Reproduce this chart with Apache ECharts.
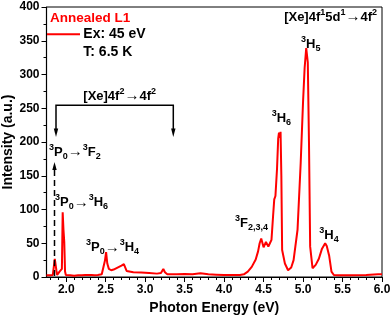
<!DOCTYPE html>
<html>
<head>
<meta charset="utf-8">
<script src="https://cdn.jsdelivr.net/npm/echarts@6/dist/echarts.min.js"></script>
<style>html,body{margin:0;padding:0;background:#fff}#c{width:392px;height:316px}</style>
</head>
<body>
<div id="c"></div>
<script>
var energy = [1.75,1.80,1.83,1.845,1.855,1.865,1.875,1.885,1.90,1.915,1.93,1.945,1.955,1.965,1.975,1.985,1.995,2.05,2.10,2.15,2.20,2.24,2.26,2.28,2.32,2.34,2.36,2.40,2.45,2.47,2.49,2.505,2.52,2.54,2.57,2.60,2.65,2.70,2.73,2.75,2.765,2.78,2.85,2.95,3.05,3.15,3.20,3.23,3.25,3.28,3.40,3.50,3.60,3.70,3.80,3.90,4.00,4.10,4.20,4.25,4.30,4.35,4.40,4.43,4.45,4.47,4.50,4.53,4.56,4.58,4.60,4.62,4.635,4.65,4.67,4.685,4.695,4.705,4.715,4.725,4.735,4.77,4.81,4.85,4.88,4.93,4.97,5.00,5.02,5.04,5.06,5.075,5.09,5.12,5.16,5.20,5.24,5.28,5.30,5.33,5.36,5.39,5.45,5.60,5.80,5.95,6.00];
var intensity = [2.5,2.5,3,5,27,28,10,3,4,8,6,12,96,70,52,8,3,2.5,2,2.5,2.5,3,5,3,3,4,2.5,3,4,6,24,37,20,12,10,11,14,17,19,18,9,7,7,6.5,6,5,6,12,7,4,4,4.5,4,5.5,4,3.5,3,3,3,4,8,15,26,38,50,57,44,52,45,50,55,90,115,120,160,205,214,206,215,150,40,20,10,14,25,70,169,260,310,339,318,200,45,13,18,27,42,50,46,32,8,3,2.5,2.5,3,4,4];
var xMajorTicks = [2.0,2.5,3.0,3.5,4.0,4.5,5.0,5.5,6.0];
var xMinorTicks = [1.8,1.9,2.1,2.2,2.3,2.4,2.6,2.7,2.8,2.9,3.1,3.2,3.3,3.4,3.6,3.7,3.8,3.9,4.1,4.2,4.3,4.4,4.6,4.7,4.8,4.9,5.1,5.2,5.3,5.4,5.6,5.7,5.8,5.9];

var FF = '"Liberation Sans", Arial, sans-serif';
var rich = {
  m: {fontSize: 13, fontWeight: 'bold', fontFamily: FF, lineHeight: 18, fill: '#000'},
  sup: {fontSize: 9, fontWeight: 'bold', fontFamily: FF, lineHeight: 9, verticalAlign: 'top', fill: '#000'},
  sub: {fontSize: 9, fontWeight: 'bold', fontFamily: FF, lineHeight: 9, verticalAlign: 'bottom', fill: '#000'},
  ar: {fontSize: 15, fontWeight: 'normal', fontFamily: FF, lineHeight: 18, fill: '#000'}
};
function label(x, y, text, align) {
  return {type: 'text', x: x, y: y, z: 100, silent: true,
    style: {text: text, rich: rich, align: align || 'left', verticalAlign: 'middle', fontSize: 13, fontFamily: FF}};
}
function plain(x, y, text, size, color) {
  return {type: 'text', x: x, y: y, z: 100, silent: true,
    style: {text: text, fill: color, fontSize: size, fontWeight: 'bold', fontFamily: FF, align: 'left', verticalAlign: 'middle'}};
}

var data = energy.map(function (e, i) { return [e, intensity[i]]; });
var chart = echarts.init(document.getElementById('c'), null, {renderer: 'canvas'});
var labelStyle = {color: '#000', fontSize: 12, fontWeight: 'bold', fontFamily: FF};
chart.setOption({
  animation: false,
  backgroundColor: '#fff',
  grid: {left: 46.5, right: 10, top: 7, bottom: 39, containLabel: false, outerBoundsMode: 'none',
    show: true, borderColor: '#000', borderWidth: 1, backgroundColor: 'transparent'},
  xAxis: [{
    type: 'value', min: 1.75, max: 6,
    name: 'Photon Energy (eV)', nameLocation: 'middle', nameGap: 24, nameMoveOverlap: false,
    nameTextStyle: {color: '#000', fontSize: 14, fontWeight: 'bold', fontFamily: FF},
    axisLine: {show: true, onZero: false, lineStyle: {color: '#000', width: 1.2}},
    axisTick: {show: true, inside: false, length: 5, customValues: xMajorTicks, lineStyle: {color: '#000', width: 1}},
    axisLabel: Object.assign({margin: 7, customValues: xMajorTicks, formatter: function (v) { return (+v).toFixed(1); }}, labelStyle),
    splitLine: {show: false}
  }, {
    type: 'value', min: 1.75, max: 6, position: 'bottom',
    axisLine: {show: false},
    axisTick: {show: true, inside: false, length: 3, customValues: xMinorTicks, lineStyle: {color: '#000', width: 1}},
    axisLabel: {show: false, customValues: xMinorTicks},
    splitLine: {show: false}
  }],
  yAxis: {
    type: 'value', min: 0, max: 400, interval: 50,
    name: 'Intensity (a.u.)', nameLocation: 'middle', nameGap: 31, nameMoveOverlap: false,
    nameTextStyle: {color: '#000', fontSize: 14, fontWeight: 'bold', fontFamily: FF},
    axisLine: {show: true, lineStyle: {color: '#000', width: 1.2}},
    axisTick: {show: true, inside: false, length: 5, lineStyle: {color: '#000', width: 1}},
    minorTick: {show: true, splitNumber: 2, length: 3, lineStyle: {color: '#000', width: 1}},
    axisLabel: Object.assign({margin: 7}, labelStyle),
    splitLine: {show: false}
  },
  series: [{
    name: 'Annealed L1', type: 'line', xAxisIndex: 0, data: data,
    showSymbol: false, symbol: 'none', smooth: false,
    lineStyle: {color: '#ff0000', width: 2}, itemStyle: {color: '#ff0000'}, z: 5
  }],
  graphic: [
    plain(50, 18.5, 'Annealed L1', 13.5, '#ff0000'),
    {type: 'line', z: 100, silent: true, shape: {x1: 47, y1: 34.3, x2: 80, y2: 34.3}, style: {stroke: '#ff0000', lineWidth: 2}},
    plain(83.3, 34.5, 'Ex: 45 eV', 14, '#000'),
    plain(83.3, 52, 'T: 6.5 K', 14, '#000'),
    label(83.3, 96, '{m|[Xe]4f}{sup|2}{ar|→}{m|4f}{sup|2}'),
    label(377, 17, '{m|[Xe]4f}{sup|1}{m|5d}{sup|1}{ar|→}{m|4f}{sup|2}', 'right'),
    label(301, 44, '{sup|3}{m|H}{sub|5}'),
    label(271.7, 118, '{sup|3}{m|H}{sub|6}'),
    label(235, 223.3, '{sup|3}{m|F}{sub|2,3,4}'),
    label(319.3, 235.5, '{sup|3}{m|H}{sub|4}'),
    label(49, 152, '{sup|3}{m|P}{sub|0}{ar|→}{sup|3}{m|F}{sub|2}'),
    label(55, 202.5, '{sup|3}{m|P}{sub|0}{ar|→}{sup|3}{m|H}{sub|6}'),
    label(86, 247.5, '{sup|3}{m|P}{sub|0}{ar|→}{sup|3}{m|H}{sub|4}'),
    {type: 'polyline', z: 100, silent: true, shape: {points: [[56, 129], [56, 105.3], [173.3, 105.3], [173.3, 129]]}, style: {stroke: '#000', lineWidth: 1.5, fill: null}},
    {type: 'polygon', z: 100, silent: true, shape: {points: [[56, 137], [53.8, 128.5], [58.2, 128.5]]}, style: {fill: '#000'}},
    {type: 'polygon', z: 100, silent: true, shape: {points: [[173.3, 137], [171.1, 128.5], [175.5, 128.5]]}, style: {fill: '#000'}},
    {type: 'line', z: 100, silent: true, shape: {x1: 54.5, y1: 276, x2: 54.5, y2: 169}, style: {stroke: '#000', lineWidth: 1.5, lineDash: [6, 4]}},
    {type: 'polygon', z: 100, silent: true, shape: {points: [[54.5, 162], [52.3, 170], [56.7, 170]]}, style: {fill: '#000'}}
  ]
});
</script>
</body>
</html>
